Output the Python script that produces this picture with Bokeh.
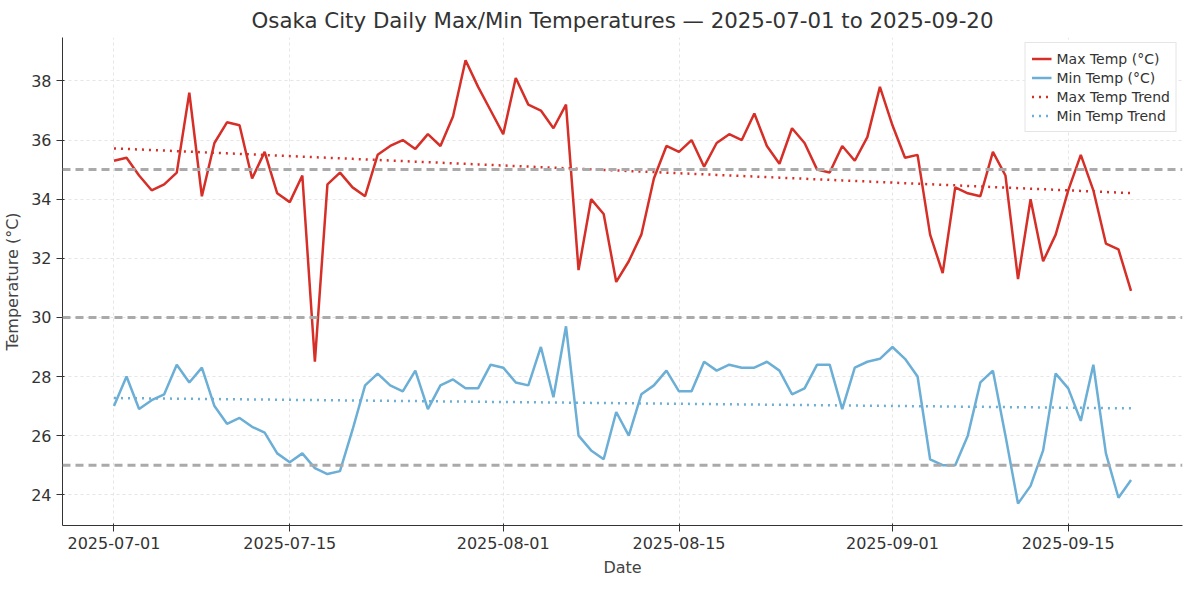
import numpy as np
import pandas as pd
from bokeh.plotting import figure
from bokeh.models import Range1d, FixedTicker, DatetimeTickFormatter, Span, Legend, LegendItem
from bokeh.embed import file_html
from bokeh.resources import INLINE

start_date = "2025-07-01"
n_days = 82
max_temp = [35.3, 35.4, 34.8, 34.3, 34.5, 34.9, 37.6, 34.1, 35.9, 36.6, 36.5, 34.7, 35.6, 34.2, 33.9, 34.8,
            28.5, 34.5, 34.9, 34.4, 34.1, 35.5, 35.8, 36.0, 35.7, 36.2, 35.8, 36.8, 38.7, 37.8, 37.0,
            36.2, 38.1, 37.2, 37.0, 36.4, 37.2, 31.6, 34.0, 33.5, 31.2, 31.9, 32.8, 34.7, 35.8,
            35.6, 36.0, 35.1, 35.9, 36.2, 36.0, 36.9, 35.8, 35.2, 36.4, 35.9, 35.0, 34.9, 35.8, 35.3, 36.1, 37.8,
            36.5, 35.4, 35.5, 32.8, 31.5, 34.4, 34.2, 34.1, 35.6, 34.8, 31.3, 34.0, 31.9, 32.8,
            34.3, 35.5, 34.3, 32.5, 32.3, 30.9]
min_temp = [27.0, 28.0, 26.9, 27.2, 27.4, 28.4, 27.8, 28.3, 27.0, 26.4, 26.6, 26.3, 26.1, 25.4, 25.1, 25.4,
            24.9, 24.7, 24.8, 26.2, 27.7, 28.1, 27.7, 27.5, 28.2, 26.9, 27.7, 27.9, 27.6, 27.6, 28.4,
            28.3, 27.8, 27.7, 29.0, 27.3, 29.7, 26.0, 25.5, 25.2, 26.8, 26.0, 27.4, 27.7, 28.2,
            27.5, 27.5, 28.5, 28.2, 28.4, 28.3, 28.3, 28.5, 28.2, 27.4, 27.6, 28.4, 28.4, 26.9, 28.3, 28.5, 28.6,
            29.0, 28.6, 28.0, 25.2, 25.0, 25.0, 26.0, 27.8, 28.2, 26.0, 23.7, 24.3, 25.5, 28.1,
            27.6, 26.5, 28.4, 25.4, 23.9, 24.5]
tick_dates = ["2025-07-01", "2025-07-15", "2025-08-01", "2025-08-15", "2025-09-01", "2025-09-15"]
ref_levels = [25, 30, 35]

dates = pd.date_range(start_date, periods=n_days, freq="D")
idx = np.arange(n_days)
max_fit = np.polyval(np.polyfit(idx, max_temp, 1), idx)
min_fit = np.polyval(np.polyfit(idx, min_temp, 1), idx)

day = pd.Timedelta(days=1)
p = figure(width=1184, height=579, x_axis_type="datetime", output_backend="svg", toolbar_location=None,
           title="Osaka City Daily Max/Min Temperatures — 2025-07-01 to 2025-09-20",
           x_range=Range1d(dates[0] - 4.1 * day, dates[-1] + 4.1 * day), y_range=Range1d(22.96, 39.47),
           min_border_left=50, min_border_right=2, min_border_top=4, min_border_bottom=4)
p.title.align = "center"
p.title.text_font = "DejaVu Sans"
p.title.text_font_size = "16pt"
p.title.text_font_style = "normal"
p.title.text_color = "#333333"
p.outline_line_color = None

for lv in ref_levels:
    p.add_layout(Span(location=lv, dimension="width", line_color="#aaaaaa", line_width=3, line_dash="8 5"))

r1 = p.line(dates, max_temp, line_color="#d62f28", line_width=2.5)
r2 = p.line(dates, min_temp, line_color="#6baed6", line_width=2.5)
r3 = p.line(dates, max_fit, line_color="#d62f28", line_width=2.5, line_dash="2 5")
r4 = p.line(dates, min_fit, line_color="#6baed6", line_width=2.5, line_dash="2 5")

legend = Legend(items=[LegendItem(label="Max Temp (°C)", renderers=[r1]),
                       LegendItem(label="Min Temp (°C)", renderers=[r2]),
                       LegendItem(label="Max Temp Trend", renderers=[r3]),
                       LegendItem(label="Min Temp Trend", renderers=[r4])],
                location="top_right", label_text_font="DejaVu Sans", label_text_font_size="10.5pt",
                label_text_color="#333333", border_line_color="#cccccc", spacing=0, padding=6,
                glyph_height=19, label_height=19, margin=5)
p.add_layout(legend)

p.xaxis.ticker = FixedTicker(ticks=[pd.Timestamp(t).value / 1e6 for t in tick_dates])
p.xaxis.formatter = DatetimeTickFormatter(days="%Y-%m-%d", months="%Y-%m-%d")
p.yaxis.ticker = FixedTicker(ticks=[24, 26, 28, 30, 32, 34, 36, 38])
p.xaxis.axis_label = "Date"
p.yaxis.axis_label = "Temperature (°C)"
for ax in (p.xaxis[0], p.yaxis[0]):
    ax.axis_label_text_font = "DejaVu Sans"
    ax.axis_label_text_font_style = "normal"
    ax.axis_label_text_font_size = "12pt"
    ax.major_label_text_font = "DejaVu Sans"
    ax.major_label_text_font_size = "12pt"
    ax.minor_tick_line_color = None
    ax.axis_line_color = "#333333"
    ax.major_tick_line_color = "#333333"
    ax.major_label_text_color = "#333333"
    ax.axis_label_standoff = 6
p.grid.grid_line_color = "#e5e5e5"
p.grid.grid_line_dash = "3 3"

open("out.html", "w").write(file_html(p, INLINE))
